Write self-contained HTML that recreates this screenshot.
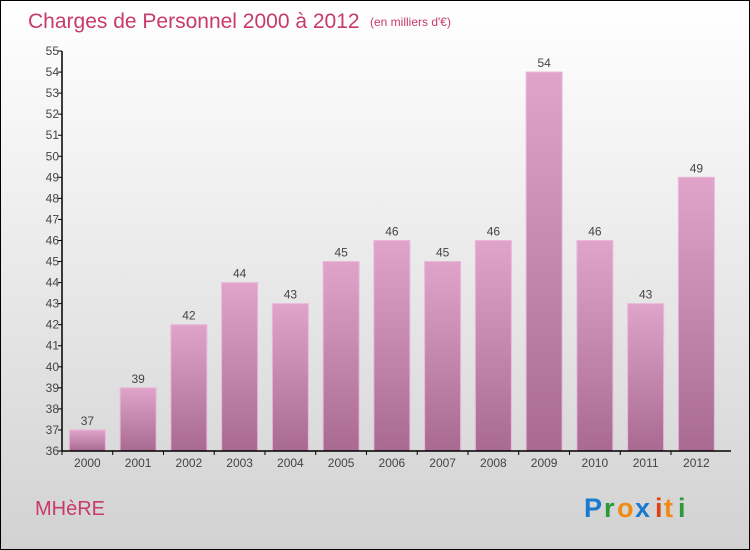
<!DOCTYPE html>
<html><head><meta charset="utf-8"><style>
body{margin:0}
#c{position:relative;width:748px;height:548px;border:1px solid #000;background:linear-gradient(#ffffff,#f4f4f4 25%,#d2d2d2);font-family:"Liberation Sans",sans-serif;overflow:hidden}
</style></head><body>
<div id="c">
<svg id="s" width="748" height="548" style="position:absolute;left:0;top:0">
<defs><linearGradient id="bg" x1="0" y1="0" x2="0" y2="1"><stop offset="0" stop-color="#e0a4cb"/><stop offset="1" stop-color="#a86a90"/></linearGradient></defs>
<text x="27" y="27" font-size="21" fill="#c83a6a">Charges de Personnel 2000 à 2012</text>
<text x="369" y="25" font-size="12" fill="#c83a6a">(en milliers d'€)</text>
<text x="34" y="514" font-size="20" fill="#c83a6a">MHèRE</text>
<g font-size="27" font-weight="bold">
<text x="583" y="516" fill="#1a7ad0">P</text><text x="603" y="516" fill="#2a9a3a">r</text><text x="616" y="516" fill="#f08a10">o</text><text x="634" y="516" fill="#1a7ad0">x</text><text x="654" y="516" fill="#e04010">i</text><text x="663" y="516" fill="#f08a10">t</text><text x="677" y="516" fill="#2a9a3a">i</text></g>
</svg>
</div>
<script>
const categories=["2000","2001","2002","2003","2004","2005","2006","2007","2008","2009","2010","2011","2012"];
const values=[37,39,42,44,43,45,46,45,46,54,46,43,49];
const yTicks=[36,37,38,39,40,41,42,43,44,45,46,47,48,49,50,51,52,53,54,55];
const s=document.getElementById('s');const NS='http://www.w3.org/2000/svg';
const x0=61,band=50.75,yMin=36,yMax=55,plotTop=50,plotBot=450;
const y=v=>plotBot-(v-yMin)*(plotBot-plotTop)/(yMax-yMin);
const cx=i=>x0+band*(i+0.5);
function mk(t,a){const e=document.createElementNS(NS,t);for(const k in a)e.setAttribute(k,a[k]);s.appendChild(e);return e;}
values.forEach((v,i)=>{
const r=mk('rect',{x:cx(i)-18,y:y(v),width:36,height:plotBot-y(v),fill:'url(#bg)',stroke:'#eab8d8','stroke-width':1});


const t=mk('text',{x:cx(i),y:y(v)-5,'font-size':12,fill:'#444','text-anchor':'middle'});t.textContent=v;


const c=mk('text',{x:cx(i),y:plotBot+16,'font-size':12,fill:'#444','text-anchor':'middle'});c.textContent=categories[i];


mk('line',{x1:cx(i)-25.4,x2:cx(i)-25.4,y1:plotBot,y2:plotBot+4,stroke:'#000'});
});
yTicks.forEach(v=>{
mk('line',{x1:x0-4,x2:x0,y1:y(v),y2:y(v),stroke:'#000'});
const t=mk('text',{x:x0-3,y:y(v)+4,'font-size':12,fill:'#444','text-anchor':'end'});t.textContent=v;


});
const ya=mk('line',{x1:x0,x2:x0,y1:plotTop,y2:plotBot,stroke:'#000','stroke-width':1.5});


const xa=mk('line',{x1:x0,x2:730,y1:plotBot,y2:plotBot,stroke:'#000','stroke-width':1.5});


</script>
</body></html>
